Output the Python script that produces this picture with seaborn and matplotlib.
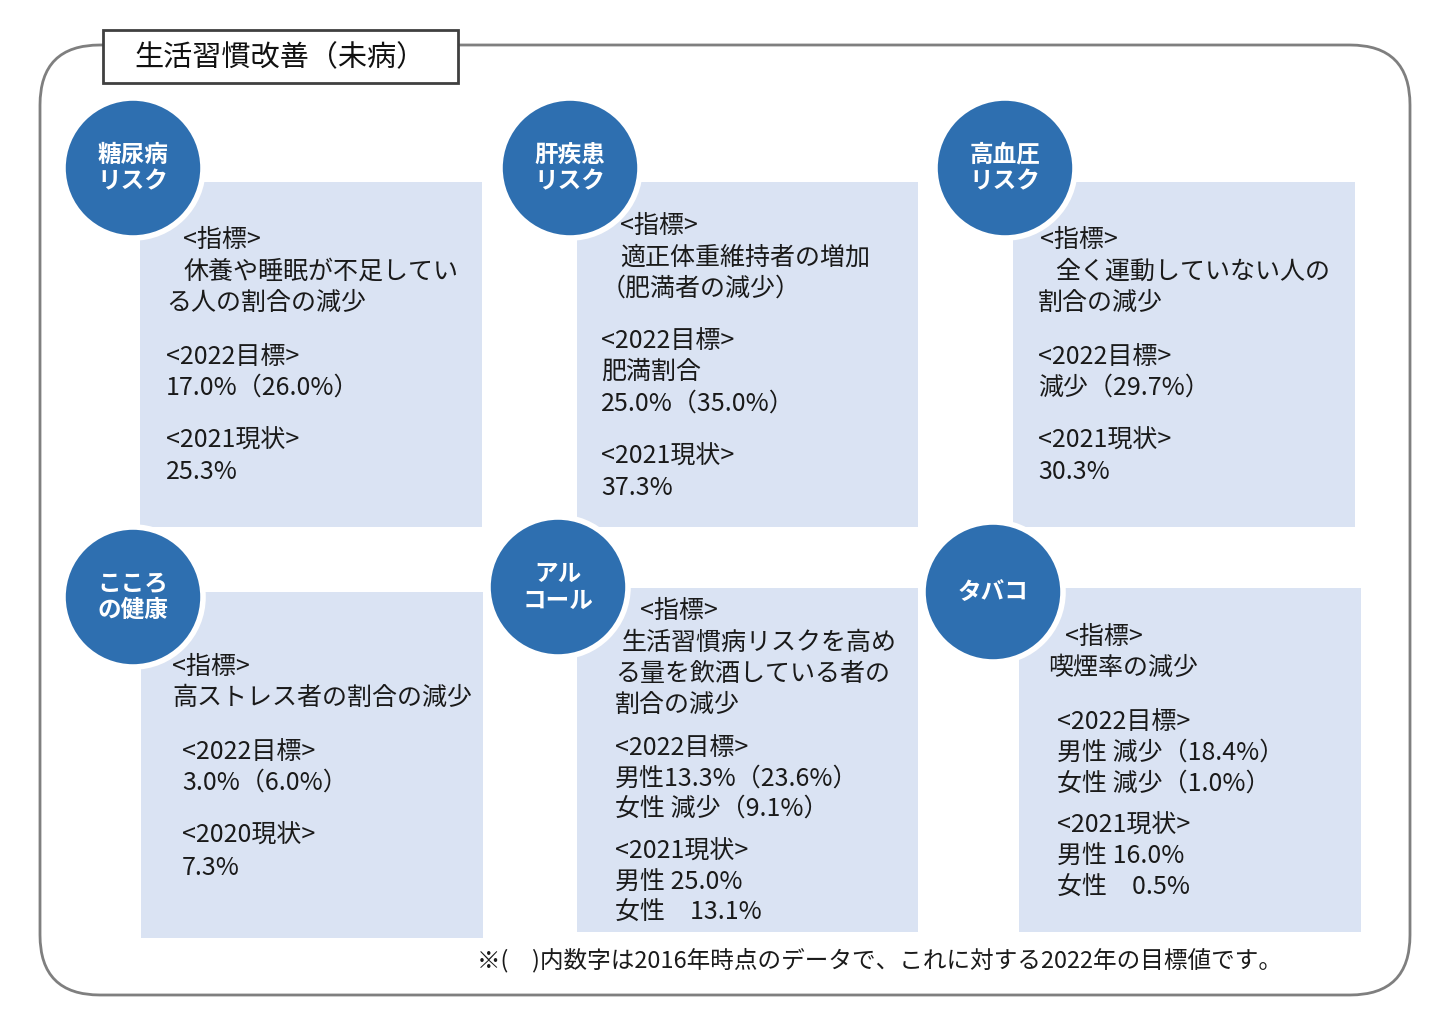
import matplotlib
matplotlib.use("Agg")
import matplotlib.pyplot as plt
from matplotlib.patches import FancyBboxPatch, Rectangle, Circle
import seaborn as sns

FONT = "Noto Sans CJK JP"
sns.set_theme(style="white", rc={"font.family": FONT})

# ---- content ----
heading = "生活習慣改善（未病）"
circle_labels = ["糖尿病\nリスク", "肝疾患\nリスク", "高血圧\nリスク", "こころ\nの健康", "アル\nコール", "タバコ"]
panel_texts = [
    ["<指標>", "休養や睡眠が不足してい", "る人の割合の減少", "<2022目標>", "17.0%（26.0%）", "<2021現状>", "25.3%"],
    ["<指標>", "適正体重維持者の増加", "（肥満者の減少）", "<2022目標>", "肥満割合", "25.0%（35.0%）", "<2021現状>", "37.3%"],
    ["<指標>", "全く運動していない人の", "割合の減少", "<2022目標>", "減少（29.7%）", "<2021現状>", "30.3%"],
    ["<指標>", "高ストレス者の割合の減少", "<2022目標>", "3.0%（6.0%）", "<2020現状>", "7.3%"],
    ["<指標>", "生活習慣病リスクを高め", "る量を飲酒している者の", "割合の減少", "<2022目標>", "男性13.3%（23.6%）",
     "女性 減少（9.1%）", "<2021現状>", "男性 25.0%", "女性　13.1%"],
    ["<指標>", "喫煙率の減少", "<2022目標>", "男性 減少（18.4%）", "女性 減少（1.0%）", "<2021現状>", "男性 16.0%", "女性　0.5%"],
]
footnote = "※(　)内数字は2016年時点のデータで、これに対する2022年の目標値です。"

# ---- layout (pixels) ----
panel_boxes = [(140, 182, 342, 345), (577, 182, 341, 345), (1013, 182, 342, 345),
               (141, 592, 342, 346), (577, 588, 341, 344), (1019, 588, 342, 344)]
circle_centers = [(133, 168), (570, 168), (1005, 168), (133, 597), (558, 587), (993, 592)]
line_layout = [
    [(183, 240), (183, 272), (166, 303), (166, 357), (166, 388), (166, 441), (166, 472)],
    [(620, 226), (620, 258), (601, 289), (601, 341), (601, 372), (601, 404), (601, 457), (601, 488)],
    [(1040, 240), (1055, 272), (1038, 303), (1038, 357), (1038, 388), (1038, 441), (1038, 472)],
    [(172, 667), (172, 698), (182, 752), (182, 783), (182, 836), (182, 868)],
    [(640, 611), (622, 643), (615, 674), (615, 705), (615, 748), (615, 779), (615, 809), (615, 852), (615, 883), (615, 913)],
    [(1065, 637), (1048, 668), (1057, 722), (1057, 753), (1057, 784), (1057, 826), (1057, 857), (1057, 888)],
]

W, H = 1441, 1034
fig = plt.figure(figsize=(W / 100, H / 100), dpi=100)
ax = fig.add_axes([0, 0, 1, 1])
ax.set_xlim(0, W)
ax.set_ylim(H, 0)
ax.axis("off")

ax.add_patch(FancyBboxPatch((40, 45), 1370, 950, boxstyle="round,pad=0,rounding_size=60",
                            fc="white", ec="#7f7f7f", lw=2))
ax.add_patch(Rectangle((103, 30), 355, 53, fc="white", ec="#404040", lw=2, zorder=3))
ax.text(280, 58, heading, fontsize=21, ha="center", va="center", color="#111111", zorder=4)

BLUE = "#2E6FB0"
PANEL = "#DAE3F3"
for (x, y, w, h), (cx, cy), label, lines, pos in zip(panel_boxes, circle_centers, circle_labels,
                                                       panel_texts, line_layout):
    ax.add_patch(Rectangle((x, y), w, h, fc=PANEL, ec="none", zorder=2))
    ax.add_patch(Circle((cx, cy), 70, fc=BLUE, ec="white", lw=4, zorder=5))
    ax.text(cx, cy, label, fontsize=17, fontweight="bold", color="white", ha="center",
            va="center", linespacing=1.15, zorder=6)
    for s, (tx, ty) in zip(lines, pos):
        ax.text(tx, ty, s, fontsize=18, color="#1a1a1a", ha="left", va="center", zorder=4)

ax.text(477, 960, footnote, fontsize=17, color="#1a1a1a", ha="left", va="center")

fig.savefig("out.png", dpi=100)
